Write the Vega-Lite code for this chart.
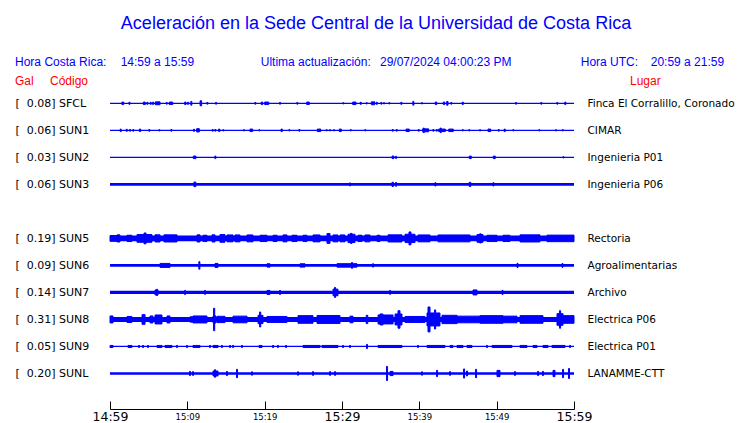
{
  "$schema": "https://vega.github.io/schema/vega-lite/v6.json",
  "width": 464,
  "height": 369,
  "autosize": "none",
  "padding": {"left": 110, "top": 40, "right": 166, "bottom": 14},
  "background": "white",
  "title": {"text": "Aceleración en la Sede Central de la Universidad de Costa Rica", "font": "Liberation Sans", "fontSize": 18, "fontWeight": "normal", "color": "#0000ff", "anchor": "middle", "frame": "group", "dx": 34, "offset": -7, "baseline": "alphabetic"},
  "datasets": {
    "base": [
      {"k": 0, "t": 0, "u": 60, "a": 0.015},
      {"k": 1, "t": 0, "u": 60, "a": 0.015},
      {"k": 2, "t": 0, "u": 60, "a": 0.015},
      {"k": 3, "t": 0, "u": 60, "a": 0.033},
      {"k": 5, "t": 0, "u": 60, "a": 0.07},
      {"k": 6, "t": 0, "u": 60, "a": 0.033},
      {"k": 7, "t": 0, "u": 60, "a": 0.038},
      {"k": 8, "t": 0, "u": 60, "a": 0.06},
      {"k": 9, "t": 0, "u": 60, "a": 0.015},
      {"k": 10, "t": 0, "u": 60, "a": 0.033}
    ],
    "bursts": [
      {"k":0,"t":1.54,"u":1.77,"a":0.03},{"k":0,"t":2.45,"u":2.58,"a":0.025},{"k":0,"t":4.31,"u":4.56,"a":0.03},{"k":0,"t":4.77,"u":4.9,"a":0.025},{"k":0,"t":5.2,"u":5.33,"a":0.025},{"k":0,"t":5.52,"u":5.62,"a":0.03},{"k":0,"t":5.86,"u":6.47,"a":0.035},{"k":0,"t":7.27,"u":7.4,"a":0.02},{"k":0,"t":7.67,"u":8.11,"a":0.03},{"k":0,"t":9.66,"u":9.83,"a":0.03},{"k":0,"t":10.03,"u":10.16,"a":0.025},{"k":0,"t":10.45,"u":10.58,"a":0.045},{"k":0,"t":11.65,"u":11.85,"a":0.06},{"k":0,"t":12.52,"u":12.65,"a":0.02},{"k":0,"t":13.65,"u":13.78,"a":0.02},{"k":0,"t":18.73,"u":18.86,"a":0.02},{"k":0,"t":19.56,"u":19.75,"a":0.03},{"k":0,"t":20.0,"u":20.52,"a":0.03},{"k":0,"t":21.92,"u":22.05,"a":0.02},{"k":0,"t":24.16,"u":24.29,"a":0.02},{"k":0,"t":25.44,"u":25.77,"a":0.03},{"k":0,"t":30.11,"u":30.24,"a":0.015},{"k":0,"t":31.38,"u":31.81,"a":0.03},{"k":0,"t":32.36,"u":32.49,"a":0.025},{"k":0,"t":33.13,"u":33.26,"a":0.015},{"k":0,"t":33.79,"u":34.23,"a":0.035},{"k":0,"t":34.43,"u":34.56,"a":0.025},{"k":0,"t":35.02,"u":35.15,"a":0.02},{"k":0,"t":35.37,"u":35.5,"a":0.015},{"k":0,"t":36.06,"u":36.19,"a":0.015},{"k":0,"t":37.61,"u":37.74,"a":0.025},{"k":0,"t":39.16,"u":39.29,"a":0.045},{"k":0,"t":40.28,"u":40.41,"a":0.015},{"k":0,"t":42.06,"u":42.25,"a":0.03},{"k":0,"t":43.1,"u":43.28,"a":0.03},{"k":0,"t":43.54,"u":43.71,"a":0.045},{"k":0,"t":44.07,"u":44.2,"a":0.02},{"k":0,"t":45.55,"u":45.68,"a":0.03},{"k":0,"t":52.44,"u":52.57,"a":0.02},{"k":0,"t":55.71,"u":55.84,"a":0.02},{"k":0,"t":57.78,"u":57.91,"a":0.02},{"k":0,"t":58.81,"u":58.94,"a":0.03},
      {"k":1,"t":1.32,"u":1.45,"a":0.03},{"k":1,"t":2.1,"u":2.23,"a":0.025},{"k":1,"t":2.53,"u":2.66,"a":0.02},{"k":1,"t":2.95,"u":3.08,"a":0.02},{"k":1,"t":3.8,"u":3.97,"a":0.03},{"k":1,"t":5.02,"u":5.15,"a":0.02},{"k":1,"t":6.32,"u":6.45,"a":0.015},{"k":1,"t":7.87,"u":8.0,"a":0.02},{"k":1,"t":10.8,"u":10.93,"a":0.025},{"k":1,"t":11.21,"u":11.55,"a":0.04},{"k":1,"t":13.22,"u":13.35,"a":0.02},{"k":1,"t":13.56,"u":13.69,"a":0.02},{"k":1,"t":14.05,"u":14.2,"a":0.03},{"k":1,"t":14.59,"u":14.72,"a":0.015},{"k":1,"t":17.27,"u":17.4,"a":0.015},{"k":1,"t":18.1,"u":18.45,"a":0.03},{"k":1,"t":19.25,"u":19.38,"a":0.015},{"k":1,"t":22.12,"u":22.28,"a":0.03},{"k":1,"t":23.13,"u":23.26,"a":0.015},{"k":1,"t":24.42,"u":24.55,"a":0.02},{"k":1,"t":26.81,"u":27.25,"a":0.03},{"k":1,"t":27.96,"u":28.09,"a":0.015},{"k":1,"t":28.39,"u":28.52,"a":0.015},{"k":1,"t":28.91,"u":29.04,"a":0.015},{"k":1,"t":29.65,"u":29.91,"a":0.03},{"k":1,"t":31.07,"u":31.2,"a":0.015},{"k":1,"t":32.95,"u":33.08,"a":0.015},{"k":1,"t":36.5,"u":36.63,"a":0.02},{"k":1,"t":37.01,"u":37.14,"a":0.02},{"k":1,"t":38.28,"u":38.7,"a":0.03},{"k":1,"t":39.86,"u":39.99,"a":0.02},{"k":1,"t":40.44,"u":41.21,"a":0.035},{"k":1,"t":40.5,"u":40.63,"a":0.055},{"k":1,"t":41.75,"u":41.88,"a":0.02},{"k":1,"t":42.19,"u":42.32,"a":0.02},{"k":1,"t":42.5,"u":43.36,"a":0.03},{"k":1,"t":42.7,"u":42.83,"a":0.055},{"k":1,"t":43.8,"u":44.39,"a":0.03},{"k":1,"t":45.55,"u":45.68,"a":0.015},{"k":1,"t":46.4,"u":46.53,"a":0.015},{"k":1,"t":47.79,"u":47.92,"a":0.015},{"k":1,"t":48.88,"u":49.23,"a":0.03},{"k":1,"t":50.2,"u":50.33,"a":0.02},{"k":1,"t":50.98,"u":51.11,"a":0.03},{"k":1,"t":52.09,"u":52.22,"a":0.015},{"k":1,"t":55.45,"u":55.58,"a":0.015},{"k":1,"t":57.61,"u":57.74,"a":0.015},{"k":1,"t":58.48,"u":58.61,"a":0.015},
      {"k":2,"t":10.77,"u":11.12,"a":0.03},{"k":2,"t":13.56,"u":13.69,"a":0.03},{"k":2,"t":36.47,"u":36.72,"a":0.03},{"k":2,"t":36.92,"u":37.05,"a":0.025},{"k":2,"t":46.46,"u":46.72,"a":0.03},{"k":2,"t":49.57,"u":49.82,"a":0.03},{"k":2,"t":58.56,"u":58.69,"a":0.015},
      {"k":3,"t":10.85,"u":11.1,"a":0.055},{"k":3,"t":30.97,"u":31.1,"a":0.035},{"k":3,"t":36.46,"u":36.66,"a":0.05},{"k":3,"t":36.92,"u":37.05,"a":0.045},{"k":3,"t":42.01,"u":42.14,"a":0.04},{"k":3,"t":46.45,"u":46.65,"a":0.05},{"k":3,"t":49.51,"u":49.64,"a":0.04},
      {"k":5,"t":0,"u":0.91,"a":0.069},{"k":5,"t":0.91,"u":1.29,"a":0.086},{"k":5,"t":2.2,"u":2.84,"a":0.076},{"k":5,"t":3.49,"u":5.43,"a":0.093},{"k":5,"t":4.4,"u":4.66,"a":0.13},{"k":5,"t":5.82,"u":6.47,"a":0.086},{"k":5,"t":6.98,"u":8.66,"a":0.086},{"k":5,"t":11.25,"u":11.64,"a":0.086},{"k":5,"t":12.03,"u":12.54,"a":0.076},{"k":5,"t":13.19,"u":13.58,"a":0.086},{"k":5,"t":14.22,"u":14.87,"a":0.093},{"k":5,"t":15.13,"u":15.91,"a":0.083},{"k":5,"t":16.16,"u":16.81,"a":0.083},{"k":5,"t":17.72,"u":18.49,"a":0.083},{"k":5,"t":19.4,"u":20.3,"a":0.076},{"k":5,"t":21.08,"u":21.6,"a":0.076},{"k":5,"t":22.37,"u":22.89,"a":0.083},{"k":5,"t":23.53,"u":24.18,"a":0.076},{"k":5,"t":24.96,"u":25.47,"a":0.076},{"k":5,"t":26.25,"u":27.16,"a":0.083},{"k":5,"t":28.06,"u":28.45,"a":0.118},{"k":5,"t":28.84,"u":29.48,"a":0.083},{"k":5,"t":29.74,"u":30.39,"a":0.083},{"k":5,"t":30.78,"u":31.68,"a":0.1},{"k":5,"t":31.1,"u":31.3,"a":0.12},{"k":5,"t":32.07,"u":32.59,"a":0.076},{"k":5,"t":32.97,"u":33.62,"a":0.083},{"k":5,"t":34.53,"u":34.91,"a":0.076},{"k":5,"t":35.95,"u":37.76,"a":0.086},{"k":5,"t":38.15,"u":39.44,"a":0.1},{"k":5,"t":38.66,"u":38.92,"a":0.155},{"k":5,"t":39.83,"u":41.38,"a":0.083},{"k":5,"t":42.41,"u":46.55,"a":0.083},{"k":5,"t":47.46,"u":48.23,"a":0.093},{"k":5,"t":47.8,"u":48.0,"a":0.11},{"k":5,"t":48.75,"u":50.04,"a":0.076},{"k":5,"t":50.82,"u":51.72,"a":0.076},{"k":5,"t":53.02,"u":55.6,"a":0.086},{"k":5,"t":56.51,"u":60,"a":0.079},
      {"k":6,"t":6.47,"u":7.76,"a":0.048},{"k":6,"t":11.49,"u":11.62,"a":0.09},{"k":6,"t":13.58,"u":13.97,"a":0.048},{"k":6,"t":20.3,"u":20.69,"a":0.04},{"k":6,"t":24.57,"u":25.22,"a":0.04},{"k":6,"t":29.35,"u":31.94,"a":0.042},{"k":6,"t":31.23,"u":31.36,"a":0.07},{"k":6,"t":33.95,"u":34.08,"a":0.04},{"k":6,"t":52.63,"u":52.76,"a":0.05},{"k":6,"t":58.45,"u":58.58,"a":0.045},
      {"k":7,"t":5.82,"u":6.21,"a":0.06},{"k":7,"t":6.02,"u":6.15,"a":0.075},{"k":7,"t":9.64,"u":9.77,"a":0.048},{"k":7,"t":12.22,"u":12.35,"a":0.045},{"k":7,"t":20.3,"u":20.69,"a":0.048},{"k":7,"t":21.92,"u":22.05,"a":0.048},{"k":7,"t":28.84,"u":29.48,"a":0.08},{"k":7,"t":29.04,"u":29.17,"a":0.12},{"k":7,"t":36.15,"u":36.28,"a":0.045},{"k":7,"t":46.94,"u":47.46,"a":0.06},{"k":7,"t":50.69,"u":50.82,"a":0.05},
      {"k":8,"t":0,"u":0.39,"a":0.084},{"k":8,"t":2.2,"u":2.84,"a":0.072},{"k":8,"t":4.14,"u":4.53,"a":0.116},{"k":8,"t":5.17,"u":5.56,"a":0.084},{"k":8,"t":5.82,"u":6.72,"a":0.108},{"k":8,"t":7.37,"u":7.76,"a":0.084},{"k":8,"t":10.34,"u":10.73,"a":0.064},{"k":8,"t":10.73,"u":12.54,"a":0.084},{"k":8,"t":13.32,"u":13.71,"a":0.084},{"k":8,"t":13.39,"u":13.54,"a":0.27},{"k":8,"t":13.84,"u":14.87,"a":0.076},{"k":8,"t":15.91,"u":17.72,"a":0.08},{"k":8,"t":19.14,"u":19.78,"a":0.1},{"k":8,"t":19.34,"u":19.49,"a":0.18},{"k":8,"t":20.3,"u":22.89,"a":0.072},{"k":8,"t":24.31,"u":26.25,"a":0.092},{"k":8,"t":26.77,"u":29.74,"a":0.096},{"k":8,"t":31.03,"u":31.42,"a":0.08},{"k":8,"t":33.13,"u":33.33,"a":0.1},{"k":8,"t":34.66,"u":36.6,"a":0.108},{"k":8,"t":34.91,"u":35.3,"a":0.132},{"k":8,"t":36.86,"u":37.76,"a":0.132},{"k":8,"t":37.24,"u":37.5,"a":0.21},{"k":8,"t":38.15,"u":40.73,"a":0.072},{"k":8,"t":40.99,"u":42.67,"a":0.156},{"k":8,"t":41.12,"u":41.38,"a":0.3},{"k":8,"t":41.96,"u":42.11,"a":0.23},{"k":8,"t":42.93,"u":44.87,"a":0.1},{"k":8,"t":44.87,"u":47.85,"a":0.08},{"k":8,"t":47.85,"u":50.82,"a":0.092},{"k":8,"t":50.82,"u":52.63,"a":0.08},{"k":8,"t":53.02,"u":55.99,"a":0.092},{"k":8,"t":57.8,"u":58.58,"a":0.14},{"k":8,"t":58.12,"u":58.27,"a":0.21},{"k":8,"t":58.58,"u":60,"a":0.092},
      {"k":9,"t":0,"u":0.39,"a":0.025},{"k":9,"t":2.33,"u":2.84,"a":0.025},{"k":9,"t":3.69,"u":3.82,"a":0.025},{"k":9,"t":4.21,"u":4.34,"a":0.025},{"k":9,"t":4.85,"u":4.98,"a":0.025},{"k":9,"t":6.08,"u":6.72,"a":0.025},{"k":9,"t":7.11,"u":8.02,"a":0.025},{"k":9,"t":8.6,"u":8.73,"a":0.025},{"k":9,"t":9.9,"u":10.03,"a":0.025},{"k":9,"t":10.73,"u":11.64,"a":0.025},{"k":9,"t":12.87,"u":13.0,"a":0.025},{"k":9,"t":13.32,"u":13.97,"a":0.025},{"k":9,"t":14.42,"u":14.55,"a":0.025},{"k":9,"t":15.46,"u":15.59,"a":0.025},{"k":9,"t":15.85,"u":15.98,"a":0.025},{"k":9,"t":17.01,"u":17.14,"a":0.025},{"k":9,"t":19.27,"u":19.66,"a":0.025},{"k":9,"t":21.02,"u":21.15,"a":0.025},{"k":9,"t":21.66,"u":21.79,"a":0.025},{"k":9,"t":22.7,"u":22.83,"a":0.025},{"k":9,"t":24.96,"u":27.16,"a":0.025},{"k":9,"t":27.41,"u":29.48,"a":0.025},{"k":9,"t":30.07,"u":30.2,"a":0.025},{"k":9,"t":30.97,"u":31.1,"a":0.025},{"k":9,"t":33.17,"u":33.3,"a":0.05},{"k":9,"t":34.66,"u":37.76,"a":0.025},{"k":9,"t":39.77,"u":39.9,"a":0.025},{"k":9,"t":40.99,"u":43.32,"a":0.025},{"k":9,"t":43.97,"u":44.35,"a":0.025},{"k":9,"t":44.87,"u":45.65,"a":0.025},{"k":9,"t":46.16,"u":46.81,"a":0.025},{"k":9,"t":48.69,"u":48.82,"a":0.025},{"k":9,"t":49.4,"u":51.98,"a":0.025},{"k":9,"t":53.02,"u":53.92,"a":0.025},{"k":9,"t":54.7,"u":55.22,"a":0.025},{"k":9,"t":55.99,"u":56.64,"a":0.025},{"k":9,"t":57.16,"u":58.84,"a":0.025},{"k":9,"t":59.42,"u":59.55,"a":0.025},
      {"k":10,"t":10.28,"u":10.41,"a":0.05},{"k":10,"t":10.67,"u":10.8,"a":0.045},{"k":10,"t":13.32,"u":13.97,"a":0.06},{"k":10,"t":13.52,"u":13.65,"a":0.09},{"k":10,"t":15.07,"u":15.2,"a":0.05},{"k":10,"t":16.36,"u":16.49,"a":0.1},{"k":10,"t":18.3,"u":18.43,"a":0.04},{"k":10,"t":24.25,"u":24.38,"a":0.04},{"k":10,"t":26.19,"u":26.32,"a":0.045},{"k":10,"t":28.39,"u":28.52,"a":0.045},{"k":10,"t":29.04,"u":29.17,"a":0.045},{"k":10,"t":35.76,"u":35.89,"a":0.17},{"k":10,"t":36.21,"u":36.6,"a":0.05},{"k":10,"t":40.28,"u":40.41,"a":0.04},{"k":10,"t":42.23,"u":42.36,"a":0.075},{"k":10,"t":43.91,"u":44.04,"a":0.045},{"k":10,"t":45.72,"u":45.85,"a":0.11},{"k":10,"t":46.1,"u":46.23,"a":0.06},{"k":10,"t":47.27,"u":47.4,"a":0.1},{"k":10,"t":50.04,"u":50.43,"a":0.075},{"k":10,"t":52.31,"u":52.44,"a":0.045},{"k":10,"t":55.29,"u":55.42,"a":0.05},{"k":10,"t":55.93,"u":56.06,"a":0.05},{"k":10,"t":57.29,"u":57.54,"a":0.075},{"k":10,"t":58.52,"u":58.65,"a":0.1},{"k":10,"t":59.29,"u":59.42,"a":0.12}
    ],
    "heads": [
      {"txt": "Hora Costa Rica:", "t": -12.28, "c": -0.909, "g": "h"},
      {"txt": "14:59 a 15:59", "t": 1.38, "c": -0.909, "g": "h"},
      {"txt": "Ultima actualización:", "t": 19.49, "c": -0.909, "g": "h"},
      {"txt": "29/07/2024 04:00:23 PM", "t": 34.91, "c": -0.909, "g": "h"},
      {"txt": "Hora UTC:", "t": 60.87, "c": -0.909, "g": "h"},
      {"txt": "20:59 a 21:59", "t": 69.92, "c": -0.909, "g": "h"},
      {"txt": "Gal", "t": -12.28, "c": -0.44, "g": "r"},
      {"txt": "Código", "t": -7.76, "c": -0.44, "g": "r"},
      {"txt": "Lugar", "t": 67.24, "c": -0.44, "g": "r"}
    ]
  },
  "layer": [
    {
      "data": {"name": "base"},
      "transform": [
        {"calculate": "datum.k * 0.65 - datum.a", "as": "lo"},
        {"calculate": "datum.k * 0.65 + datum.a", "as": "hi"}
      ],
      "mark": {"type": "rect", "color": "#0000ff"},
      "encoding": {
        "x": {"field": "t", "type": "quantitative",
          "scale": {"domain": [0, 60], "nice": false, "zero": false},
          "axis": {"orient": "bottom", "values": [0,5,10,15,20,25,30,35,40,45,50,55,60], "title": null, "grid": false,
            "domainColor": "#000000", "domainWidth": 1, "tickColor": "#000000", "tickSize": -8, "tickWidth": 1,
            "labelPadding": 15.5, "labelBaseline": "middle", "labelColor": "#000000", "labelFont": "DejaVu Sans",
            "labelFontSize": {"condition": {"test": "datum.value % 30 == 0", "value": 12.5}, "value": 8.5},
            "labelExpr": "datum.value % 10 == 0 ? ['14:59','15:09','15:19','15:29','15:39','15:49','15:59'][datum.value / 10] : ''",
            "labelOverlap": false, "labelFlush": false}},
        "x2": {"field": "u"},
        "y": {"field": "lo", "type": "quantitative",
          "scale": {"domain": [0, 6.5], "range": [63.3, 333.5], "nice": false, "zero": false},
          "axis": {"orient": "left", "values": [0, 0.65, 1.3, 1.95, 3.25, 3.9, 4.55, 5.2, 5.85, 6.5], "title": null, "grid": false,
            "domain": false, "ticks": false, "labelAlign": "left", "labelPadding": 95, "labelBaseline": "middle",
            "labelFont": "DejaVu Sans", "labelFontSize": 11, "labelColor": "#000000", "labelOverlap": false, "labelFlush": false,
            "labelExpr": "['[\u00a0\u00a00.08] SFCL','[\u00a0\u00a00.06] SUN1','[\u00a0\u00a00.03] SUN2','[\u00a0\u00a00.06] SUN3','','[\u00a0\u00a00.19] SUN5','[\u00a0\u00a00.09] SUN6','[\u00a0\u00a00.14] SUN7','[\u00a0\u00a00.31] SUN8','[\u00a0\u00a00.05] SUN9','[\u00a0\u00a00.20] SUNL'][round(datum.value / 0.65)]"}},
        "y2": {"field": "hi"}
      }
    },
    {
      "data": {"name": "bursts"},
      "transform": [
        {"calculate": "datum.k * 0.65 - datum.a", "as": "lo"},
        {"calculate": "datum.k * 0.65 + datum.a", "as": "hi"}
      ],
      "mark": {"type": "rect", "color": "#0000ff", "stroke": "#0000ff", "strokeWidth": 1},
      "encoding": {
        "x": {"field": "t", "type": "quantitative", "scale": {"domain": [0, 60], "nice": false, "zero": false}},
        "x2": {"field": "u"},
        "y": {"field": "lo", "type": "quantitative",
          "scale": {"domain": [0, 6.5], "range": [63.3, 333.5], "nice": false, "zero": false},
          "axis": {"orient": "right", "values": [0, 0.65, 1.3, 1.95, 3.25, 3.9, 4.55, 5.2, 5.85, 6.5], "title": null, "grid": false,
            "domain": false, "ticks": false, "labelAlign": "left", "labelPadding": 13, "labelBaseline": "middle",
            "labelFont": "DejaVu Sans", "labelFontSize": 10.5, "labelColor": "#000000", "labelOverlap": false, "labelFlush": false,
            "labelExpr": "['Finca El Corralillo, Coronado','CIMAR','Ingenieria P01','Ingenieria P06','','Rectoria','Agroalimentarias','Archivo','Electrica P06','Electrica P01','LANAMME-CTT'][round(datum.value / 0.65)]"}},
        "y2": {"field": "hi"}
      }
    },
    {
      "data": {"name": "heads"},
      "mark": {"type": "text", "align": "left", "baseline": "alphabetic", "font": "Liberation Sans", "fontSize": 12},
      "encoding": {
        "x": {"field": "t", "type": "quantitative", "scale": {"domain": [0, 60], "nice": false, "zero": false}},
        "y": {"field": "c", "type": "quantitative", "scale": {"domain": [0, 6.5], "range": [63.3, 333.5], "nice": false, "zero": false}, "axis": null},
        "text": {"field": "txt"},
        "color": {"field": "g", "type": "nominal", "scale": {"domain": ["h", "r"], "range": ["#0000ff", "#ff0000"]}, "legend": null}
      }
    }
  ],
  "resolve": {"axis": {"y": "independent"}},
  "config": {"view": {"stroke": null}, "axis": {"grid": false}}
}
